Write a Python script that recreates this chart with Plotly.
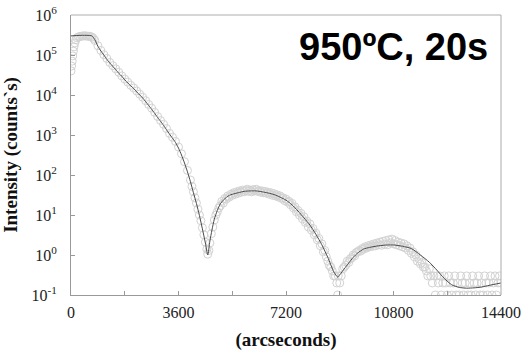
import plotly.graph_objects as go

# ---- measured data (open circles) ----
meas_x = [0, 20, 40, 60, 80, 100, 130, 160, 200, 250, 300, 350, 400, 450, 500, 550, 600, 650, 700, 750,
          800, 900, 1000, 1100, 1200, 1300, 1400, 1500, 1600, 1700, 1800, 1900, 2000, 2100, 2200, 2300,
          2400, 2500, 2600, 2700, 2800, 2900, 3000, 3100, 3200, 3300, 3400, 3500, 3600, 3700, 3800, 3900,
          4000, 4050, 4100, 4150, 4200, 4250, 4300, 4350, 4400, 4450, 4500, 4550, 4580, 4620, 4650, 4700,
          4750, 4800, 4850, 4900, 4950, 5000, 5050, 5100, 5150, 5200, 5250, 5300, 5350, 5400, 5450, 5500,
          5550, 5600, 5650, 5700, 5750, 5800, 5850, 5900, 5950, 6000, 6050, 6100, 6150, 6200, 6250, 6300,
          6350, 6400, 6450, 6500, 6550, 6600, 6650, 6700, 6750, 6800, 6850, 6900, 6950, 7000, 7050, 7100,
          7150, 7200, 7250, 7300, 7350, 7400, 7450, 7500, 7550, 7600, 7650, 7700, 7750, 7800, 7850, 7900,
          7950, 8000, 8050, 8100, 8150, 8200, 8250, 8300, 8350, 8400, 8450, 8500, 8550, 8600, 8650, 8700,
          8750, 8800, 8850, 8900, 8930, 8950, 9000, 9050, 9100, 9150, 9200, 9250, 9300, 9350, 9400, 9450,
          9500, 9550, 9600, 9650, 9700, 9750, 9800, 9850, 9900, 9950, 10000, 10050, 10100, 10150, 10200,
          10250, 10300, 10350, 10400, 10450, 10500, 10550, 10600, 10650, 10700, 10750, 10800, 10850, 10900,
          10950, 11000, 11050, 11100, 11150, 11200, 11250, 11300, 11350, 11400, 11450, 11500, 11550, 11600,
          11650, 11700, 11750, 11800, 11850, 11900, 11950, 12000, 12050, 12100, 12150, 12200, 12250, 12300,
          12350, 12400, 12450, 12500, 12550, 12600, 12650, 12700, 12750, 12800, 12850, 12900, 12950, 13000,
          13050, 13100, 13150, 13200, 13250, 13300, 13350, 13400, 13450, 13500, 13550, 13600, 13650, 13700,
          13750, 13800, 13850, 13900, 13950, 14000, 14050, 14100, 14150, 14200, 14250, 14300, 14350, 14400]
meas_y = [4.0e4, 5.3e4, 7.0e4, 9.5e4, 1.25e5, 1.6e5, 2.0e5, 2.4e5, 2.7e5, 2.85e5, 2.9e5, 2.95e5, 3.0e5,
          3.0e5, 3.0e5, 2.95e5, 2.95e5, 2.9e5, 2.8e5, 2.6e5,
          2.3e5, 1.7e5, 1.3e5, 1.02e5, 8.2e4, 6.5e4, 5.4e4, 4.5e4, 3.7e4, 3.0e4, 2.5e4, 2.1e4, 1.75e4,
          1.5e4, 1.26e4, 1.05e4, 8.8e3, 7.2e3, 5.8e3, 4.7e3, 3.7e3, 2.9e3, 2.3e3, 1.85e3, 1.45e3, 1.1e3,
          880, 690, 500, 340, 215, 130,
          75, 52, 38, 27, 20, 14, 10, 7.2, 4.8, 3.2, 2.1, 1.4, 1.05, 1.3, 2.0, 3.4,
          5.0, 7.5, 10, 12, 15, 17, 22, 20, 26, 25, 30, 28, 33, 31, 36, 33,
          38, 35, 40, 37, 42, 38, 41, 44, 39, 42, 38, 43, 40, 44, 39, 41,
          37, 40, 36, 39, 35, 37, 33, 36, 31, 34, 30, 32, 28, 30, 26, 27,
          23, 25, 21, 22, 18, 19.5, 15, 16, 12, 13, 10, 11, 8.0, 9.0, 6.5, 7.0,
          5.0, 6.0, 4.2, 4.6, 3.2, 3.5, 2.4, 2.6, 1.7, 1.9, 1.2, 1.3, 0.9, 0.7, 0.55, 0.5,
          0.4, 0.3, 0.3, 0.2, 0.1, 0.3, 0.2, 0.3, 0.45, 0.5, 0.55, 0.7, 0.65, 0.8, 0.85, 1.0,
          0.95, 1.15, 1.2, 1.3, 1.25, 1.45, 1.4, 1.6, 1.5, 1.7, 1.6, 1.8, 1.65, 1.9, 1.7,
          2.0, 1.8, 2.1, 1.75, 2.2, 1.85, 2.3, 1.8, 2.4, 2.0, 2.5, 1.9, 2.3, 1.8,
          2.1, 1.7, 2.0, 1.6, 1.9, 1.5, 1.7, 1.3, 1.5, 1.1, 1.2, 0.9, 1.0, 0.7,
          0.8, 0.6, 0.65, 0.5, 0.5, 0.4, 0.3, 0.45, 0.3, 0.2, 0.3, 0.1, 0.3, 0.2,
          0.3, 0.1, 0.2, 0.3, 0.2, 0.1, 0.3, 0.2, 0.1, 0.2, 0.3, 0.1, 0.2, 0.1,
          0.3, 0.2, 0.1, 0.2, 0.3, 0.1, 0.2, 0.1, 0.3, 0.2, 0.1, 0.2, 0.3, 0.1,
          0.2, 0.1, 0.3, 0.2, 0.1, 0.2, 0.3, 0.1, 0.2, 0.3, 0.1, 0.2, 0.3, 0.2]

# ---- simulated fit (solid line) ----
fit_x = [0, 300, 700, 800, 900, 1000, 1100, 1200, 1300, 1400, 1500, 1600, 1700, 1800, 1900, 2000, 2100,
         2200, 2300, 2400, 2500, 2600, 2700, 2800, 2900, 3000, 3100, 3200, 3300, 3400, 3500, 3600, 3700,
         3800, 3900, 4000, 4100, 4200, 4300, 4400, 4500, 4580, 4650, 4720, 4800, 4900, 5000, 5100, 5200,
         5300, 5400, 5600, 5800, 6000, 6200, 6400, 6600, 6800, 7000, 7200, 7400, 7600, 7800, 8000, 8200,
         8400, 8600, 8800, 8930, 9000, 9150, 9300, 9450, 9600, 9800, 10000, 10300, 10600, 10800, 11100,
         11400, 11700, 12000, 12250, 12500, 12750, 13000, 13250, 13500, 13750, 14000, 14400]
fit_y = [3.0e5, 3.1e5, 3.0e5, 2.4e5, 1.66e5, 1.26e5, 1.0e5, 7.8e4, 6.3e4, 5.2e4, 4.3e4, 3.5e4, 2.95e4,
         2.4e4, 2.0e4, 1.7e4, 1.45e4, 1.2e4, 1.0e4, 8.5e3, 6.8e3, 5.5e3, 4.4e3, 3.5e3, 2.75e3, 2.2e3,
         1.74e3, 1.35e3, 1.05e3, 830, 650, 470, 316, 200, 120, 68, 36, 19.5, 9.8, 4.5, 2.0, 1.0, 2.2,
         4.2, 7.9, 13, 19, 23.5, 27.5, 31, 33, 36, 39, 40, 40, 38, 35.5, 32.4, 28, 23.5, 18, 12.6, 8.5,
         5.6, 3.3, 1.8, 0.87, 0.38, 0.28, 0.32, 0.45, 0.63, 0.87, 1.12, 1.41, 1.55, 1.7, 1.78, 1.78,
         1.66, 1.45, 1.0, 0.66, 0.42, 0.26, 0.18, 0.155, 0.148, 0.151, 0.158, 0.174, 0.2]

x_tickvals = [0, 3600, 7200, 10800, 14400]
x_ticktext = ["0", "3600", "7200", "10800", "14400"]
y_tickvals = [0.1, 1, 10, 100, 1000, 10000, 100000, 1000000]
y_ticktext = ["10<sup>-1</sup>", "10<sup>0</sup>", "10<sup>1</sup>", "10<sup>2</sup>",
              "10<sup>3</sup>", "10<sup>4</sup>", "10<sup>5</sup>", "10<sup>6</sup>"]

fig = go.Figure()
fig.add_trace(go.Scatter(
    x=meas_x, y=meas_y, mode="markers",
    marker=dict(symbol="circle-open", size=8, color="#d2d2d2", line=dict(width=1, color="#d2d2d2")),
    showlegend=False, hoverinfo="skip"))
fig.add_trace(go.Scatter(
    x=fit_x, y=fit_y, mode="lines",
    line=dict(color="#4a4a4a", width=1, shape="spline", smoothing=0.6),
    showlegend=False, hoverinfo="skip"))

serif = "Liberation Serif, Times New Roman, serif"
fig.update_layout(
    width=524, height=354,
    margin=dict(l=71, r=23, t=15, b=59),
    paper_bgcolor="white", plot_bgcolor="white",
    font=dict(family=serif, color="#222222", size=16),
    xaxis=dict(range=[0, 14400], tickvals=x_tickvals, ticktext=x_ticktext, ticks="inside", ticklen=4,
               tickcolor="#999999", minor=dict(dtick=1800, ticks="inside", ticklen=4, tickcolor="#999999"),
               showline=True, linecolor="#999999", linewidth=1, showgrid=False, zeroline=False,
               automargin=False,
               tickfont=dict(family=serif, size=16, color="#222222"), ticklabelstandoff=3,
               title=dict(text="<b>(arcseconds)</b>", font=dict(family=serif, size=19, color="#111111"),
                          standoff=12)),
    yaxis=dict(type="log", range=[-1, 6], tickvals=y_tickvals, ticktext=y_ticktext,
               ticks="inside", ticklen=4, tickcolor="#999999",
               showline=True, linecolor="#999999", linewidth=1, showgrid=False, zeroline=False,
               automargin=False,
               tickfont=dict(family=serif, size=16, color="#222222"), ticklabelstandoff=10,
               title=dict(text="<b>Intensity (counts`s)</b>", font=dict(family=serif, size=19, color="#111111"),
                          standoff=8)),
    shapes=[
        dict(type="line", xref="paper", yref="paper", x0=0, x1=1, y0=1, y1=1,
             line=dict(color="#d6d6d6", width=2)),
        dict(type="line", xref="paper", yref="paper", x0=1, x1=1, y0=0, y1=1,
             line=dict(color="#aaaaaa", width=1)),
    ],
    annotations=[dict(text="<b>950ºC, 20s</b>", xref="paper", yref="paper", x=0.975, y=0.885,
                      xanchor="right", yanchor="middle", showarrow=False,
                      font=dict(family="Liberation Sans, Arial, sans-serif", size=38, color="#000000"))],
)

fig.write_html("out.html", config={"displayModeBar": False},
               post_script="document.body.style.margin='0px';")
